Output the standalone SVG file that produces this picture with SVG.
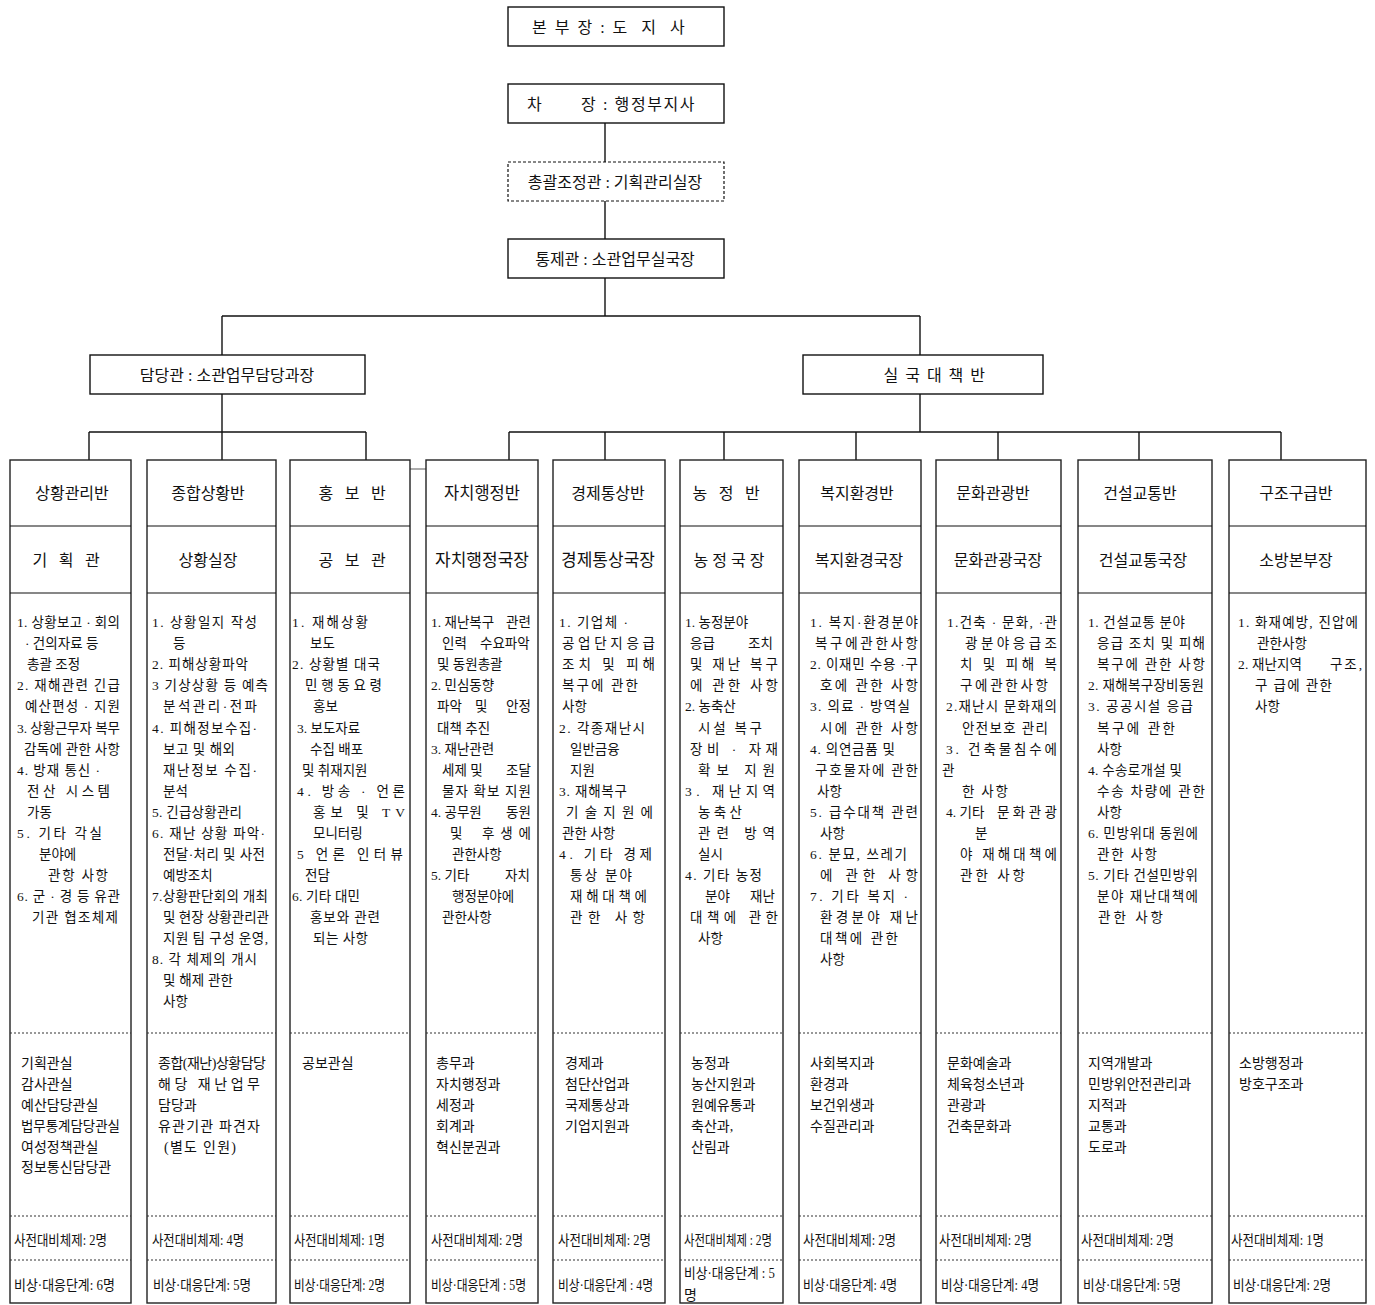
<svg xmlns="http://www.w3.org/2000/svg" width="1375" height="1305" viewBox="0 0 1375 1305">
<style>
.box{fill:#fff;stroke:#111;stroke-width:1.4}
.dbox{fill:#fff;stroke:#111;stroke-width:1.2;stroke-dasharray:3 2}
.col{fill:#fff;stroke:#222;stroke-width:1.4}
.row{stroke:#111;stroke-width:1.2}
.dash{stroke:#333;stroke-width:1.2;stroke-dasharray:2 2}
.conn{stroke:#111;stroke-width:1.4;fill:none}
.conn2{stroke:#888;stroke-width:1.4;fill:none}
text{font-family:"Liberation Serif","Noto Sans CJK KR",serif;fill:#111}
.top{font-size:16px}
.mid{font-size:16px;text-anchor:middle}
.h{font-size:16px;text-anchor:middle}
.h2{font-size:17px;text-anchor:middle}
.b{font-size:13.5px}
.b4{font-size:13.5px}
.l{font-size:14px}
.s{font-size:14px}
</style>

<g id="connectors">
<line class="conn" x1="605" y1="123" x2="605" y2="162"/>
<line class="conn" x1="605" y1="201" x2="605" y2="239"/>
<line class="conn" x1="605" y1="278" x2="605" y2="316"/>
<line class="conn" x1="222" y1="316" x2="920" y2="316"/>
<line class="conn" x1="222" y1="316" x2="222" y2="355"/>
<line class="conn" x1="920" y1="316" x2="920" y2="355"/>
<line class="conn" x1="222" y1="394" x2="222" y2="460"/>
<line class="conn" x1="89" y1="432" x2="366" y2="432"/>
<line class="conn" x1="89" y1="432" x2="89" y2="460"/>
<line class="conn" x1="366" y1="432" x2="366" y2="460"/>
<line class="conn" x1="920" y1="394" x2="920" y2="432"/>
<line class="conn" x1="509" y1="432" x2="1281" y2="432"/>
<line class="conn" x1="509" y1="432" x2="509" y2="460"/>
<line class="conn" x1="605" y1="432" x2="605" y2="460"/>
<line class="conn" x1="724" y1="432" x2="724" y2="460"/>
<line class="conn" x1="856" y1="432" x2="856" y2="460"/>
<line class="conn" x1="998" y1="432" x2="998" y2="460"/>
<line class="conn" x1="1139" y1="432" x2="1139" y2="460"/>
<line class="conn" x1="1281" y1="432" x2="1281" y2="460"/>
<line class="conn2" x1="410" y1="469" x2="426" y2="469"/>
</g>

<g id="node-bonbujang">
<rect class="box" x="508" y="7" width="216" height="39"/>
<text class="top" x="532" y="33" letter-spacing="2" xml:space="preserve">본 부 장 : 도  지  사</text>
</g>
<g id="node-chajang">
<rect class="box" x="508" y="84" width="216" height="39"/>
<text class="top" y="110"><tspan x="527">차</tspan> <tspan x="581" letter-spacing="1.6">장 : 행정부지사</tspan></text>
</g>
<g id="node-chonggwal">
<rect class="dbox" x="508" y="162" width="216" height="39"/>
<text class="mid" x="615" y="187.5">총괄조정관 : 기획관리실장</text>
</g>
<g id="node-tongje">
<rect class="box" x="508" y="239" width="216" height="39"/>
<text class="mid" x="615" y="264.5">통제관 : 소관업무실국장</text>
</g>
<g id="node-damdang">
<rect class="box" x="90" y="355" width="275" height="39"/>
<text class="mid" x="227" y="380.5">담당관 : 소관업무담당과장</text>
</g>
<g id="node-silguk">
<rect class="box" x="803" y="355" width="240" height="39"/>
<text class="mid" x="935" y="380.5" letter-spacing="1.5">실 국 대 책 반</text>
</g>

<!-- Column 1 -->
<g id="col-1">
<rect class="col" x="10" y="460" width="121" height="843"/>
<line class="row" x1="10" y1="526" x2="131" y2="526"/>
<line class="row" x1="10" y1="593" x2="131" y2="593"/>
<line class="dash" x1="10" y1="1033" x2="131" y2="1033"/>
<line class="dash" x1="10" y1="1216" x2="131" y2="1216"/>
<line class="dash" x1="10" y1="1260" x2="131" y2="1260"/>
<text class="h" x="72" y="498.5">상황관리반</text>
<text class="h" x="68" y="565.5" letter-spacing="3.8">기 획 관</text>
<text class="b" x="17" y="627" textLength="103">1. 상황보고 · 회의</text>
<text class="b" x="25" y="648">· 건의자료 등</text>
<text class="b" x="27" y="669">총괄 조정</text>
<text class="b" x="17" y="690" textLength="103">2. 재해관련 긴급</text>
<text class="b" x="25" y="711" textLength="95">예산편성 · 지원</text>
<text class="b" x="17" y="732.5" textLength="103">3. 상황근무자 복무</text>
<text class="b" x="24" y="753.5" textLength="96">감독에 관한 사항</text>
<text class="b" x="17" y="774.5" textLength="83">4. 방재 통신 ·</text>
<text class="b" x="27" y="795.5" textLength="83">전산 시스템</text>
<text class="b" x="27" y="816.5">가동</text>
<text class="b" x="17" y="837.5" textLength="85">5. 기타 각실</text>
<text class="b" x="39" y="858.5">분야에</text>
<text class="b" x="48" y="880" textLength="60">관항 사항</text>
<text class="b" x="17" y="901" textLength="103">6. 군 · 경 등 유관</text>
<text class="b" x="32" y="922" textLength="86">기관 협조체제</text>
<text class="l" x="21" y="1068">기획관실</text>
<text class="l" x="21" y="1089">감사관실</text>
<text class="l" x="21" y="1110">예산담당관실</text>
<text class="l" x="21" y="1131" textLength="99" lengthAdjust="spacingAndGlyphs">법무통계담당관실</text>
<text class="l" x="21" y="1152">여성정책관실</text>
<text class="l" x="21" y="1172">정보통신담당관</text>
<text class="s" x="14" y="1245" textLength="93" lengthAdjust="spacingAndGlyphs">사전대비체제: 2명</text>
<text class="s" x="14" y="1290" textLength="101" lengthAdjust="spacingAndGlyphs">비상·대응단계: 6명</text>
</g>

<!-- Column 2 -->
<g id="col-2">
<rect class="col" x="147" y="460" width="129" height="843"/>
<line class="row" x1="147" y1="526" x2="276" y2="526"/>
<line class="row" x1="147" y1="593" x2="276" y2="593"/>
<line class="dash" x1="147" y1="1033" x2="276" y2="1033"/>
<line class="dash" x1="147" y1="1216" x2="276" y2="1216"/>
<line class="dash" x1="147" y1="1260" x2="276" y2="1260"/>
<text class="h" x="208" y="498.5">종합상황반</text>
<text class="h" x="208" y="565.5">상황실장</text>
<text class="b" x="152" y="627" textLength="105">1. 상황일지 작성</text>
<text class="b" x="173" y="648">등</text>
<text class="b" x="152" y="669" textLength="96">2. 피해상황파악</text>
<text class="b" x="152" y="690" textLength="116">3 기상상황 등 예측</text>
<text class="b" x="163" y="711" textLength="94">분석관리·전파</text>
<text class="b" x="152" y="732.5" textLength="105">4. 피해정보수집·</text>
<text class="b" x="163" y="753.5" textLength="72">보고 및 해외</text>
<text class="b" x="163" y="774.5" textLength="94">재난정보 수집·</text>
<text class="b" x="163" y="795.5">분석</text>
<text class="b" x="152" y="816.5" textLength="90">5. 긴급상황관리</text>
<text class="b" x="152" y="837.5" textLength="113">6. 재난 상황 파악·</text>
<text class="b" x="163" y="858.5" textLength="102">전달·처리 및 사전</text>
<text class="b" x="163" y="880">예방조치</text>
<text class="b" x="152" y="901" textLength="116">7.상황판단회의 개최</text>
<text class="b" x="163" y="922" textLength="106">및 현장 상황관리관</text>
<text class="b" x="163" y="943" textLength="105">지원 팀 구성 운영,</text>
<text class="b" x="152" y="964" textLength="105">8. 각 체제의 개시</text>
<text class="b" x="163" y="985" textLength="70">및 해제 관한</text>
<text class="b" x="163" y="1006">사항</text>
<text class="l" x="158" y="1068" textLength="108">종합(재난)상황담당</text>
<text class="l" x="158" y="1089" textLength="102">해당 재난업무</text>
<text class="l" x="158" y="1110">담당과</text>
<text class="l" x="158" y="1131" textLength="102">유관기관 파견자</text>
<text class="l" x="164" y="1152" textLength="72">(별도 인원)</text>
<text class="s" x="152" y="1245" textLength="92" lengthAdjust="spacingAndGlyphs">사전대비체제: 4명</text>
<text class="s" x="153" y="1290" textLength="98" lengthAdjust="spacingAndGlyphs">비상·대응단계: 5명</text>
</g>

<!-- Column 3 -->
<g id="col-3">
<rect class="col" x="290" y="460" width="120" height="843"/>
<line class="row" x1="290" y1="526" x2="410" y2="526"/>
<line class="row" x1="290" y1="593" x2="410" y2="593"/>
<line class="dash" x1="290" y1="1033" x2="410" y2="1033"/>
<line class="dash" x1="290" y1="1216" x2="410" y2="1216"/>
<line class="dash" x1="290" y1="1260" x2="410" y2="1260"/>
<text class="h" x="354" y="498.5" letter-spacing="3.8">홍 보 반</text>
<text class="h" x="354" y="565.5" letter-spacing="3.8">공 보 관</text>
<text class="b" x="292" y="627" textLength="76">1. 재해상황</text>
<text class="b" x="310" y="648">보도</text>
<text class="b" x="292" y="669" textLength="88">2. 상황별 대국</text>
<text class="b" x="305" y="690" textLength="77">민행동요령</text>
<text class="b" x="313" y="711">홍보</text>
<text class="b" x="297" y="732.5">3. 보도자료</text>
<text class="b" x="310" y="753.5">수집 배포</text>
<text class="b" x="302" y="774.5">및 취재지원</text>
<text class="b" x="297" y="795.5" textLength="108">4. 방송 · 언론</text>
<text class="b" x="313" y="816.5" textLength="92">홍보 및 TV</text>
<text class="b" x="313" y="837.5">모니터링</text>
<text class="b" x="297" y="858.5" textLength="106">5 언론 인터뷰</text>
<text class="b" x="305" y="880">전담</text>
<text class="b" x="292" y="901" textLength="68">6. 기타 대민</text>
<text class="b" x="310" y="922" textLength="70">홍보와 관련</text>
<text class="b" x="313" y="943" textLength="55">되는 사항</text>
<text class="l" x="302" y="1068">공보관실</text>
<text class="s" x="294" y="1245" textLength="91" lengthAdjust="spacingAndGlyphs">사전대비체제: 1명</text>
<text class="s" x="294" y="1290" textLength="91" lengthAdjust="spacingAndGlyphs">비상·대응단계: 2명</text>
</g>

<!-- Column 4 -->
<g id="col-4">
<rect class="col" x="426" y="460" width="112" height="843"/>
<line class="row" x1="426" y1="526" x2="538" y2="526"/>
<line class="row" x1="426" y1="593" x2="538" y2="593"/>
<line class="dash" x1="426" y1="1033" x2="538" y2="1033"/>
<line class="dash" x1="426" y1="1216" x2="538" y2="1216"/>
<line class="dash" x1="426" y1="1260" x2="538" y2="1260"/>
<text class="h" x="482" y="498.5" style="font-size:16.5px">자치행정반</text>
<text class="h2" x="482" y="566">자치행정국장</text>
<text class="b4" y="627"><tspan x="431">1. 재난복구</tspan> <tspan x="506">관련</tspan></text>
<text class="b4" y="648"><tspan x="442">인력</tspan> <tspan x="480">수요파악</tspan></text>
<text class="b4" x="437" y="669">및 동원총괄</text>
<text class="b4" x="431" y="690">2. 민심동향</text>
<text class="b4" y="711"><tspan x="437">파악</tspan> <tspan x="475">및</tspan> <tspan x="506">안정</tspan></text>
<text class="b4" x="437" y="732.5">대책 추진</text>
<text class="b4" x="431" y="753.5">3. 재난관련</text>
<text class="b4" y="774.5"><tspan x="442">세제 및</tspan> <tspan x="506">조달</tspan></text>
<text class="b4" x="442" y="795.5" textLength="89">물자 확보 지원</text>
<text class="b4" y="816.5"><tspan x="431">4. 공무원</tspan> <tspan x="506">동원</tspan></text>
<text class="b4" y="837.5"><tspan x="450">및</tspan> <tspan x="482" textLength="49">후생에</tspan></text>
<text class="b4" x="452" y="858.5">관한사항</text>
<text class="b4" y="880"><tspan x="431">5. 기타</tspan> <tspan x="505">자치</tspan></text>
<text class="b4" x="452" y="901">행정분야에</text>
<text class="b4" x="442" y="922">관한사항</text>
<text class="l" x="436" y="1068">총무과</text>
<text class="l" x="436" y="1089">자치행정과</text>
<text class="l" x="436" y="1110">세정과</text>
<text class="l" x="436" y="1131">회계과</text>
<text class="l" x="436" y="1152">혁신분권과</text>
<text class="s" x="431" y="1245" textLength="92" lengthAdjust="spacingAndGlyphs">사전대비체제: 2명</text>
<text class="s" x="431" y="1290" textLength="95" lengthAdjust="spacingAndGlyphs">비상·대응단계 : 5명</text>
</g>

<!-- Column 5 -->
<g id="col-5">
<rect class="col" x="553" y="460" width="112" height="843"/>
<line class="row" x1="553" y1="526" x2="665" y2="526"/>
<line class="row" x1="553" y1="593" x2="665" y2="593"/>
<line class="dash" x1="553" y1="1033" x2="665" y2="1033"/>
<line class="dash" x1="553" y1="1216" x2="665" y2="1216"/>
<line class="dash" x1="553" y1="1260" x2="665" y2="1260"/>
<text class="h" x="608" y="498.5">경제통상반</text>
<text class="h2" x="608" y="566">경제통상국장</text>
<text class="b" x="559" y="627" textLength="69">1. 기업체 ·</text>
<text class="b" x="562" y="648" textLength="93">공업단지응급</text>
<text class="b" x="562" y="669" textLength="93">조치 및 피해</text>
<text class="b" x="562" y="690" textLength="76">복구에 관한</text>
<text class="b" x="562" y="711">사항</text>
<text class="b" x="559" y="732.5" textLength="86">2. 각종재난시</text>
<text class="b" x="570" y="753.5">일반금융</text>
<text class="b" x="570" y="774.5">지원</text>
<text class="b" x="559" y="795.5" textLength="68">3. 재해복구</text>
<text class="b" x="566" y="816.5" textLength="87">기 술 지 원 에</text>
<text class="b" x="562" y="837.5">관한 사항</text>
<text class="b" x="559" y="858.5" textLength="93">4. 기타 경제</text>
<text class="b" x="570" y="880" textLength="62">통상 분야</text>
<text class="b" x="570" y="901" textLength="77">재해대책에</text>
<text class="b" x="570" y="922" textLength="75">관한 사항</text>
<text class="l" x="565" y="1068">경제과</text>
<text class="l" x="565" y="1089">첨단산업과</text>
<text class="l" x="565" y="1110">국제통상과</text>
<text class="l" x="565" y="1131">기업지원과</text>
<text class="s" x="558" y="1245" textLength="93" lengthAdjust="spacingAndGlyphs">사전대비체제: 2명</text>
<text class="s" x="558" y="1290" textLength="95" lengthAdjust="spacingAndGlyphs">비상·대응단계 : 4명</text>
</g>

<!-- Column 6 -->
<g id="col-6">
<rect class="col" x="680" y="460" width="103" height="843"/>
<line class="row" x1="680" y1="526" x2="783" y2="526"/>
<line class="row" x1="680" y1="593" x2="783" y2="593"/>
<line class="dash" x1="680" y1="1033" x2="783" y2="1033"/>
<line class="dash" x1="680" y1="1216" x2="783" y2="1216"/>
<line class="dash" x1="680" y1="1260" x2="783" y2="1260"/>
<text class="h" x="728" y="498.5" letter-spacing="3.8">농 정 반</text>
<text class="h" x="729" y="565.5">농 정 국 장</text>
<text class="b" x="685" y="627">1. 농정분야</text>
<text class="b" y="648"><tspan x="690">응급</tspan> <tspan x="748">조치</tspan></text>
<text class="b" x="690" y="669" textLength="88">및 재난 복구</text>
<text class="b" x="690" y="690" textLength="88">에 관한 사항</text>
<text class="b" x="685" y="711">2. 농축산</text>
<text class="b" x="698" y="732.5" textLength="64">시설 복구</text>
<text class="b" x="690" y="753.5" textLength="88">장비 · 자재</text>
<text class="b" x="698" y="774.5" textLength="77">확보 지원</text>
<text class="b" x="685" y="795.5" textLength="90">3. 재난지역</text>
<text class="b" x="698" y="816.5" textLength="44">농축산</text>
<text class="b" x="698" y="837.5" textLength="77">관련 방역</text>
<text class="b" x="698" y="858.5">실시</text>
<text class="b" x="685" y="880" textLength="77">4. 기타 농정</text>
<text class="b" y="901"><tspan x="705">분야</tspan> <tspan x="750">재난</tspan></text>
<text class="b" x="690" y="922" textLength="88">대책에 관한</text>
<text class="b" x="698" y="943">사항</text>
<text class="l" x="691" y="1068">농정과</text>
<text class="l" x="691" y="1089">농산지원과</text>
<text class="l" x="691" y="1110">원예유통과</text>
<text class="l" x="691" y="1131">축산과,</text>
<text class="l" x="691" y="1152">산림과</text>
<text class="s" x="684" y="1245" textLength="88" lengthAdjust="spacingAndGlyphs">사전대비체제 : 2명</text>
<text class="s" x="684" y="1278" textLength="91" lengthAdjust="spacingAndGlyphs">비상·대응단계 : 5</text>
<text class="s" x="684" y="1300">명</text>
</g>

<!-- Column 7 -->
<g id="col-7">
<rect class="col" x="799" y="460" width="122" height="843"/>
<line class="row" x1="799" y1="526" x2="921" y2="526"/>
<line class="row" x1="799" y1="593" x2="921" y2="593"/>
<line class="dash" x1="799" y1="1033" x2="921" y2="1033"/>
<line class="dash" x1="799" y1="1216" x2="921" y2="1216"/>
<line class="dash" x1="799" y1="1260" x2="921" y2="1260"/>
<text class="h" x="857" y="498.5">복지환경반</text>
<text class="h" x="859" y="565.5">복지환경국장</text>
<text class="b" x="810" y="627" textLength="108">1. 복지·환경분야</text>
<text class="b" x="815" y="648" textLength="103">복구에관한사항</text>
<text class="b" x="810" y="669" textLength="108">2. 이재민 수용 ·구</text>
<text class="b" x="820" y="690" textLength="98">호에 관한 사항</text>
<text class="b" x="810" y="711" textLength="100">3. 의료 · 방역실</text>
<text class="b" x="820" y="732.5" textLength="98">시에 관한 사항</text>
<text class="b" x="810" y="753.5" textLength="85">4. 의연금품 및</text>
<text class="b" x="815" y="774.5" textLength="103">구호물자에 관한</text>
<text class="b" x="817" y="795.5">사항</text>
<text class="b" x="810" y="816.5" textLength="108">5. 급수대책 관련</text>
<text class="b" x="820" y="837.5">사항</text>
<text class="b" x="810" y="858.5" textLength="97">6. 분묘, 쓰레기</text>
<text class="b" x="820" y="880" textLength="98">에 관한 사항</text>
<text class="b" x="810" y="901" textLength="98">7. 기타 복지 ·</text>
<text class="b" x="820" y="922" textLength="98">환경분야 재난</text>
<text class="b" x="820" y="943" textLength="78">대책에 관한</text>
<text class="b" x="820" y="964">사항</text>
<text class="l" x="810" y="1068">사회복지과</text>
<text class="l" x="810" y="1089">환경과</text>
<text class="l" x="810" y="1110">보건위생과</text>
<text class="l" x="810" y="1131">수질관리과</text>
<text class="s" x="803" y="1245" textLength="93" lengthAdjust="spacingAndGlyphs">사전대비체제: 2명</text>
<text class="s" x="803" y="1290" textLength="94" lengthAdjust="spacingAndGlyphs">비상·대응단계: 4명</text>
</g>

<!-- Column 8 -->
<g id="col-8">
<rect class="col" x="936" y="460" width="125" height="843"/>
<line class="row" x1="936" y1="526" x2="1061" y2="526"/>
<line class="row" x1="936" y1="593" x2="1061" y2="593"/>
<line class="dash" x1="936" y1="1033" x2="1061" y2="1033"/>
<line class="dash" x1="936" y1="1216" x2="1061" y2="1216"/>
<line class="dash" x1="936" y1="1260" x2="1061" y2="1260"/>
<text class="h" x="993" y="498.5">문화관광반</text>
<text class="h" x="998" y="565.5">문화관광국장</text>
<text class="b" x="947" y="627" textLength="110">1.건축 · 문화, ·관</text>
<text class="b" x="965" y="648" textLength="92">광분야응급조</text>
<text class="b" x="960" y="669" textLength="97">치 및 피해 복</text>
<text class="b" x="960" y="690" textLength="88">구에관한사항</text>
<text class="b" x="946" y="711" textLength="111">2.재난시 문화재의</text>
<text class="b" x="962" y="732.5" textLength="86">안전보호 관리</text>
<text class="b" x="946" y="753.5" textLength="111">3. 건축물침수에</text>
<text class="b" x="942" y="774.5">관</text>
<text class="b" x="962" y="795.5" textLength="46">한 사항</text>
<text class="b" y="816.5"><tspan x="946">4. 기타</tspan> <tspan x="997" textLength="60">문화관광</tspan></text>
<text class="b" x="975" y="837.5">분</text>
<text class="b" x="960" y="858.5" textLength="97">야 재해대책에</text>
<text class="b" x="960" y="880" textLength="65">관한 사항</text>
<text class="l" x="947" y="1068">문화예술과</text>
<text class="l" x="947" y="1089">체육청소년과</text>
<text class="l" x="947" y="1110">관광과</text>
<text class="l" x="947" y="1131">건축문화과</text>
<text class="s" x="939" y="1245" textLength="93" lengthAdjust="spacingAndGlyphs">사전대비체제: 2명</text>
<text class="s" x="941" y="1290" textLength="98" lengthAdjust="spacingAndGlyphs">비상·대응단계: 4명</text>
</g>

<!-- Column 9 -->
<g id="col-9">
<rect class="col" x="1078" y="460" width="134" height="843"/>
<line class="row" x1="1078" y1="526" x2="1212" y2="526"/>
<line class="row" x1="1078" y1="593" x2="1212" y2="593"/>
<line class="dash" x1="1078" y1="1033" x2="1212" y2="1033"/>
<line class="dash" x1="1078" y1="1216" x2="1212" y2="1216"/>
<line class="dash" x1="1078" y1="1260" x2="1212" y2="1260"/>
<text class="h" x="1140" y="498.5">건설교통반</text>
<text class="h" x="1143" y="565.5">건설교통국장</text>
<text class="b" x="1088" y="627" textLength="97">1. 건설교통 분야</text>
<text class="b" x="1097" y="648" textLength="108">응급 조치 및 피해</text>
<text class="b" x="1097" y="669" textLength="108">복구에 관한 사항</text>
<text class="b" x="1088" y="690" textLength="116">2. 재해복구장비동원</text>
<text class="b" x="1088" y="711" textLength="105">3. 공공시설 응급</text>
<text class="b" x="1097" y="732.5" textLength="78">복구에 관한</text>
<text class="b" x="1097" y="753.5">사항</text>
<text class="b" x="1088" y="774.5" textLength="94">4. 수송로개설 및</text>
<text class="b" x="1097" y="795.5" textLength="108">수송 차량에 관한</text>
<text class="b" x="1097" y="816.5">사항</text>
<text class="b" x="1088" y="837.5" textLength="110">6. 민방위대 동원에</text>
<text class="b" x="1097" y="858.5" textLength="60">관한 사항</text>
<text class="b" x="1088" y="880" textLength="110">5. 기타 건설민방위</text>
<text class="b" x="1097" y="901" textLength="101">분야 재난대책에</text>
<text class="b" x="1098" y="922" textLength="65">관한 사항</text>
<text class="l" x="1088" y="1068">지역개발과</text>
<text class="l" x="1088" y="1089">민방위안전관리과</text>
<text class="l" x="1088" y="1110">지적과</text>
<text class="l" x="1088" y="1131">교통과</text>
<text class="l" x="1088" y="1152">도로과</text>
<text class="s" x="1081" y="1245" textLength="93" lengthAdjust="spacingAndGlyphs">사전대비체제: 2명</text>
<text class="s" x="1083" y="1290" textLength="98" lengthAdjust="spacingAndGlyphs">비상·대응단계: 5명</text>
</g>

<!-- Column 10 -->
<g id="col-10">
<rect class="col" x="1229" y="460" width="137" height="843"/>
<line class="row" x1="1229" y1="526" x2="1366" y2="526"/>
<line class="row" x1="1229" y1="593" x2="1366" y2="593"/>
<line class="dash" x1="1229" y1="1033" x2="1366" y2="1033"/>
<line class="dash" x1="1229" y1="1216" x2="1366" y2="1216"/>
<line class="dash" x1="1229" y1="1260" x2="1366" y2="1260"/>
<text class="h" x="1296" y="498.5">구조구급반</text>
<text class="h" x="1296" y="565.5">소방본부장</text>
<text class="b" x="1238" y="627" textLength="120">1. 화재예방, 진압에</text>
<text class="b" x="1257" y="648" textLength="50">관한사항</text>
<text class="b" y="669"><tspan x="1238" textLength="64">2. 재난지역</tspan> <tspan x="1330" textLength="32">구조,</tspan></text>
<text class="b" x="1255" y="690" textLength="77">구 급에 관한</text>
<text class="b" x="1255" y="711">사항</text>
<text class="l" x="1239" y="1068">소방행정과</text>
<text class="l" x="1239" y="1089">방호구조과</text>
<text class="s" x="1231" y="1245" textLength="93" lengthAdjust="spacingAndGlyphs">사전대비체제: 1명</text>
<text class="s" x="1233" y="1290" textLength="98" lengthAdjust="spacingAndGlyphs">비상·대응단계: 2명</text>
</g>
</svg>
